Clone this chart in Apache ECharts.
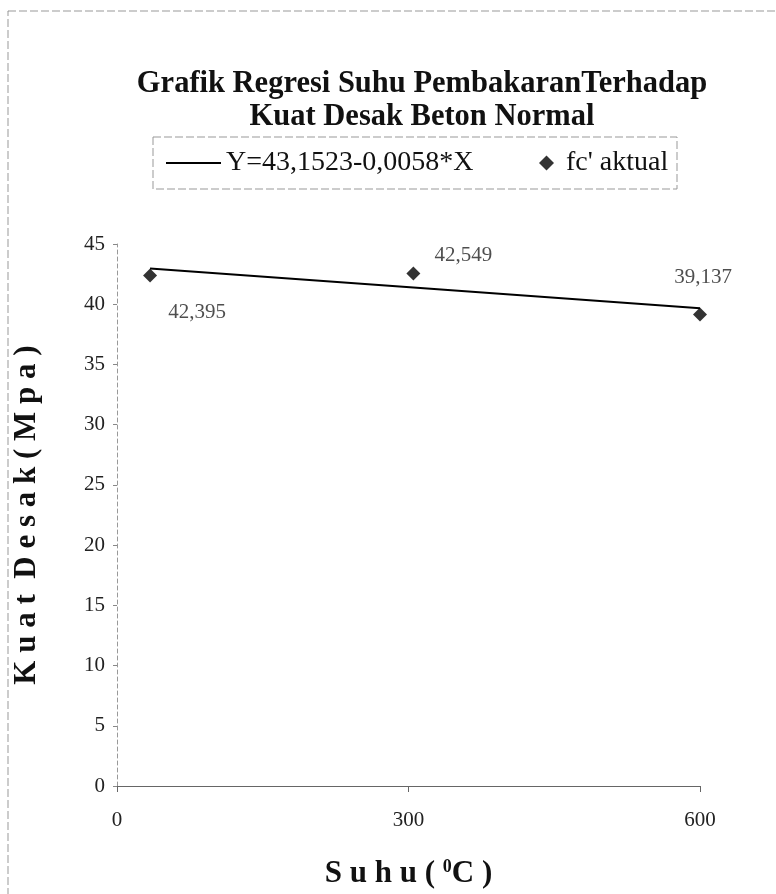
<!DOCTYPE html>
<html>
<head>
<meta charset="utf-8">
<script src="https://cdn.jsdelivr.net/npm/echarts@6/dist/echarts.min.js"></script>
<style>html,body{margin:0;padding:0;background:#fff;}#c{width:776px;height:894px;}</style>
</head>
<body>
<div id="c"></div>
<script>
// ---- data ----
const titleLines = ['Grafik Regresi Suhu PembakaranTerhadap', 'Kuat Desak Beton Normal'];
const lineName = 'Y=43,1523-0,0058*X';
const pointName = "fc' aktual";
const suhu = [34, 305, 600];                 // temperature (°C)
const fcAktual = [42.395, 42.549, 39.137];   // measured strength (MPa)
const fcRegresi = [42.96, 41.38, 39.67];     // regression line values
const yMin = 0, yMax = 45, yStep = 5;
const xMin = 0, xMax = 600, xStep = 300;
const yName = 'K u a t  D e s a k ( M p a )';
const xName = 'S u h u ( {sup|0}C )';

const fmt = v => String(v).replace('.', ',');
const serif = 'Liberation Serif';
const labelOffsets = [[47, 37], [50, -18], [3, -37]];

const chart = echarts.init(document.getElementById('c'), null, {renderer: 'canvas'});
chart.setOption({
  backgroundColor: '#fff',
  animation: false,
  title: {
    text: titleLines.join('\n'),
    left: 417, top: 63, textAlign: 'center',
    textStyle: {fontFamily: serif, fontWeight: 'bold', fontSize: 30.5, lineHeight: 33, color: '#111'}
  },
  legend: [
    {data: [lineName], left: 165, top: 149, padding: 0, itemWidth: 55, itemHeight: 2,
     textStyle: {fontFamily: serif, fontSize: 28, color: '#111'}},
    {data: [pointName], left: 539, top: 149, padding: 0,
     itemWidth: 15, itemHeight: 15, formatter: name => ' ' + name,
     textStyle: {fontFamily: serif, fontSize: 28, color: '#111'}}
  ],
  graphic: [
    {type: 'rect', shape: {x: 8, y: 11, width: 900, height: 1000}, style: {fill: 'none', stroke: '#999', lineWidth: 1, lineDash: [8, 3]}, silent: true},
    {type: 'rect', shape: {x: 153, y: 137, width: 524, height: 52}, style: {fill: 'none', stroke: '#999', lineWidth: 1, lineDash: [8, 3]}, silent: true}
  ],
  grid: {left: 117, right: 76, top: 244, bottom: 97, containLabel: false},
  xAxis: {
    type: 'value', min: xMin, max: xMax, interval: xStep,
    name: xName, nameLocation: 'middle', nameGap: 72,
    nameTextStyle: {fontFamily: serif, fontWeight: 'bold', fontSize: 31, color: '#111',
      rich: {sup: {fontFamily: serif, fontWeight: 'bold', fontSize: 18, verticalAlign: 'top', color: '#111'}}},
    axisLine: {lineStyle: {color: '#666', width: 1}},
    axisTick: {show: true, length: 6, lineStyle: {color: '#666'}},
    axisLabel: {fontFamily: serif, fontSize: 21, color: '#222', margin: 24},
    splitLine: {show: false}
  },
  yAxis: {
    type: 'value', min: yMin, max: yMax, interval: yStep,
    name: yName, nameLocation: 'middle', nameGap: 75, nameRotate: 90,
    nameTextStyle: {fontFamily: serif, fontWeight: 'bold', fontSize: 31, color: '#111'},
    axisLine: {show: true, lineStyle: {color: '#999', width: 1, type: [4, 3]}},
    axisTick: {show: true, length: 4, lineStyle: {color: '#888'}},
    axisLabel: {fontFamily: serif, fontSize: 21, color: '#222', margin: 12},
    splitLine: {show: false}
  },
  series: [
    {name: lineName, type: 'line', data: suhu.map((x, i) => [x, fcRegresi[i]]),
     symbol: 'none', lineStyle: {color: '#000', width: 2}, itemStyle: {color: '#000'}, z: 2},
    {name: pointName, type: 'scatter', symbol: 'diamond', symbolSize: 14,
     itemStyle: {color: '#000'}, z: 3, clip: false,
     data: suhu.map((x, i) => ({value: [x, fcAktual[i]],
       label: {show: true, offset: labelOffsets[i], formatter: fmt(fcAktual[i]), position: 'inside',
               fontFamily: serif, fontSize: 21, color: '#222'}}))}
  ]
});
</script>
</body>
</html>
